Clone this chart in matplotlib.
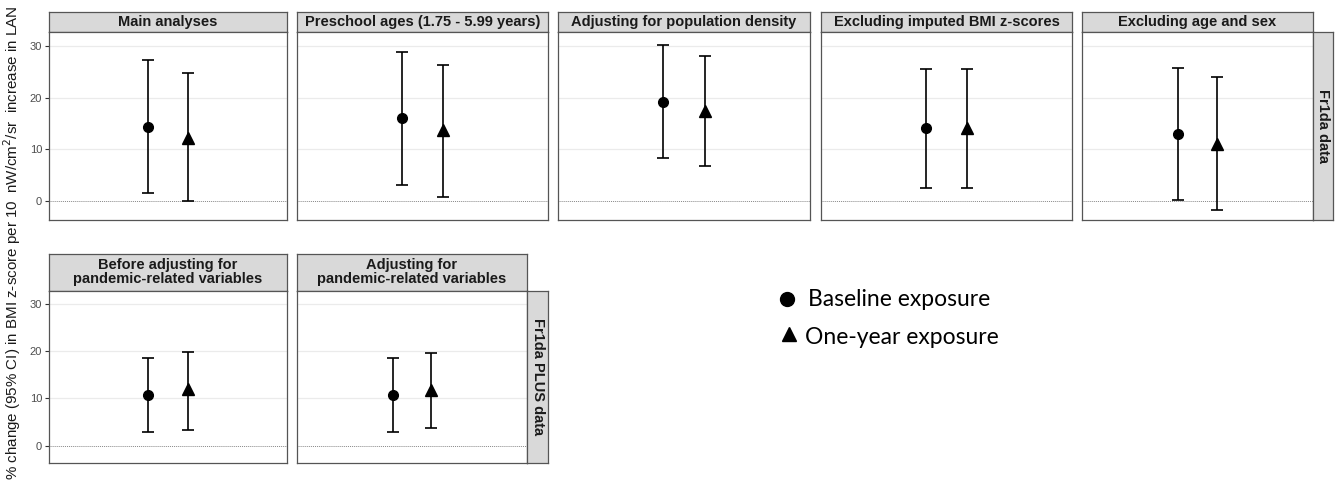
import numpy as np
import matplotlib.pyplot as plt

plt.rcParams['font.family'] = ['Liberation Sans', 'DejaVu Sans']

# ------------------------------------------------------------
# 数据
# ------------------------------------------------------------
top_titles = ['Main analyses', 'Preschool ages (1.75 - 5.99 years)',
              'Adjusting for population density', 'Excluding imputed BMI z-scores',
              'Excluding age and sex']
top_base_est = [14.3, 16.0, 19.1, 14.1, 12.9]
top_base_lo = [1.6, 3.1, 8.3, 2.5, 0.1]
top_base_hi = [27.2, 28.8, 30.1, 25.6, 25.8]
top_year_est = [12.1, 13.7, 17.4, 14.1, 11.1]
top_year_lo = [0.0, 0.8, 6.8, 2.5, -1.8]
top_year_hi = [24.8, 26.3, 28.1, 25.5, 23.9]

bot_titles = ['Before adjusting for\npandemic-related variables',
              'Adjusting for\npandemic-related variables']
bot_base_est = [10.7, 10.7]
bot_base_lo = [2.8, 2.8]
bot_base_hi = [18.6, 18.6]
bot_year_est = [11.9, 11.8]
bot_year_lo = [3.3, 3.8]
bot_year_hi = [19.8, 19.6]

row_labels = ['Fr1da data', 'Fr1da PLUS data']
yticks = [0, 10, 20, 30]

W, H = 1335, 487
fig = plt.figure(figsize=(W / 100, H / 100), dpi=100)


def box(x0, y0, x1, y1):
    # 像素坐标 -> figure 坐标
    return [x0 / W, 1 - y1 / H, (x1 - x0) / W, (y1 - y0) / H]


def strip(rect, text, rotation=0):
    s = fig.add_axes(rect)
    s.set_facecolor('#d9d9d9')
    s.set_xticks([])
    s.set_yticks([])
    for sp in s.spines.values():
        sp.set_color('#555555')
        sp.set_linewidth(0.9)
    s.text(0.5, 0.5, text, ha='center', va='center', fontsize=10.5,
           fontweight='bold', color='#1a1a1a', rotation=rotation,
           transform=s.transAxes, linespacing=1.0)
    return s


def panel(rect, est, show_y):
    b_est, b_lo, b_hi, y_est, y_lo, y_hi = est
    ax = fig.add_axes(rect)
    for v in yticks[1:]:
        ax.axhline(v, color='#ebebeb', lw=0.9, zorder=0)
    ax.axhline(0, color='#888888', lw=0.7, ls=(0, (1, 1)), zorder=1)
    ax.errorbar([0.9], [b_est], yerr=[[b_est - b_lo], [b_hi - b_est]],
                fmt='o', color='black', ms=7, capsize=4, elinewidth=1.2,
                capthick=1.2, zorder=3)
    ax.errorbar([1.1], [y_est], yerr=[[y_est - y_lo], [y_hi - y_est]],
                fmt='^', color='black', ms=8, capsize=4, elinewidth=1.2,
                capthick=1.2, zorder=3)
    ax.set_xlim(0.4, 1.6)
    ax.set_ylim(-3.7, 32.7)
    ax.set_xticks([])
    ax.set_yticks(yticks)
    if show_y:
        ax.tick_params(axis='y', length=3, width=0.8, color='#333333',
                       labelsize=8, labelcolor='#4d4d4d', pad=2)
    else:
        ax.tick_params(axis='y', length=0, labelleft=False)
    for sp in ax.spines.values():
        sp.set_color('#555555')
        sp.set_linewidth(0.9)
    return ax


# 上排
top_x = [(49, 287), (297, 548), (558, 810), (821, 1072), (1082, 1313)]
for i, (x0, x1) in enumerate(top_x):
    strip(box(x0, 12, x1, 32), top_titles[i])
    panel(box(x0, 32, x1, 220),
          (top_base_est[i], top_base_lo[i], top_base_hi[i],
           top_year_est[i], top_year_lo[i], top_year_hi[i]), i == 0)
strip(box(1313, 32, 1333, 220), row_labels[0], rotation=-90)

# 下排
bot_x = [(49, 287), (297, 527)]
for i, (x0, x1) in enumerate(bot_x):
    strip(box(x0, 254, x1, 291), bot_titles[i])
    panel(box(x0, 291, x1, 463),
          (bot_base_est[i], bot_base_lo[i], bot_base_hi[i],
           bot_year_est[i], bot_year_lo[i], bot_year_hi[i]), i == 0)
strip(box(527, 291, 548, 463), row_labels[1], rotation=-90)

# y 轴标题
fig.text(12 / W, 1 - 243 / H,
         '% change (95% CI) in BMI z-score per 10  nW/cm$^2$/sr  increase in LAN',
         rotation=90, ha='center', va='center', fontsize=10.9, color='#1a1a1a')

# 图例
leg_font = ['Lato', 'DejaVu Sans']
fig.lines.append(plt.Line2D([787 / W], [1 - 299 / H], marker='o', ms=10,
                            color='black', ls='', transform=fig.transFigure))
fig.lines.append(plt.Line2D([789 / W], [1 - 334 / H], marker='^', ms=10,
                            color='black', ls='', transform=fig.transFigure))
fig.text(808 / W, 1 - 300 / H, 'Baseline exposure', ha='left', va='center',
         fontsize=16.5, family=leg_font)
fig.text(805 / W, 1 - 338 / H, 'One-year exposure', ha='left', va='center',
         fontsize=16.5, family=leg_font)

plt.savefig('out.png', dpi=100)
